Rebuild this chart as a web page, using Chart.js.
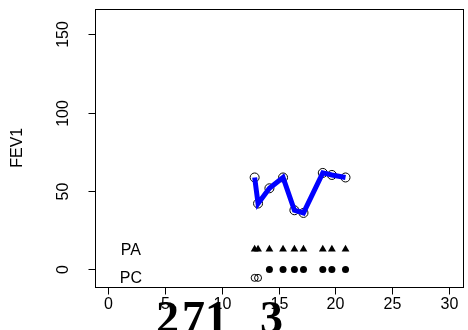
<!DOCTYPE html>
<html>
<head>
<meta charset="utf-8">
<script src="https://cdn.jsdelivr.net/npm/chart.js@4"></script>
<style>
html, body { margin: 0; padding: 0; background: #fff; }
#wrap { width: 468px; height: 330px; }
</style>
</head>
<body>
<div id="wrap"><canvas id="fevChart" width="468" height="330"></canvas></div>
<script>
/* data */
const age = [12.9, 13.2, 14.2, 15.4, 16.4, 17.2, 18.9, 19.7, 20.9];
const fev1 = [58.6, 42.0, 51.7, 58.6, 37.7, 36.0, 61.5, 60.2, 58.6];
const paLevel = [12.8, 12.8, 12.8, 12.8, 12.8, 12.8, 12.8, 12.8, 12.8];
const pcLevel = [-5.4, -5.4, 0, 0, 0, 0, 0, 0, 0];
const pcOpen = [true, true, false, false, false, false, false, false, false];
const xTicks = [0, 5, 10, 15, 20, 25, 30];
const yTicks = [0, 50, 100, 150];
const rowLabels = ['PA', 'PC'];

function pts(xs, ys, keep) {
  const out = [];
  for (let i = 0; i < xs.length; i++) {
    if (!keep || keep(i)) out.push({ x: xs[i], y: ys[i] });
  }
  return out;
}

const FONT = '"Liberation Sans", Arial, sans-serif';

/* R style axes, box and text */
const rAxes = {
  id: 'rAxes',
  afterDraw(chart) {
    const c = chart.ctx;
    const a = chart.chartArea;
    const xs = chart.scales.x;
    const ys = chart.scales.y;
    c.save();
    c.strokeStyle = '#000';
    c.lineWidth = 1;
    c.strokeRect(Math.round(a.left) + 0.5, Math.round(a.top) + 0.5,
      Math.round(a.right - a.left), Math.round(a.bottom - a.top));

    c.fillStyle = '#000';
    c.font = '16px ' + FONT;
    // x ticks
    c.textAlign = 'center';
    c.textBaseline = 'alphabetic';
    xTicks.forEach(function (t) {
      const px = Math.round(xs.getPixelForValue(t)) + 0.5;
      c.beginPath();
      c.moveTo(px, Math.round(a.bottom) + 0.5);
      c.lineTo(px, Math.round(a.bottom) + 7.5);
      c.stroke();
      c.fillText(String(t), px, 309);
    });
    // y ticks
    yTicks.forEach(function (t) {
      const py = Math.round(ys.getPixelForValue(t)) + 0.5;
      c.beginPath();
      c.moveTo(Math.round(a.left) + 0.5, py);
      c.lineTo(Math.round(a.left) - 6.5, py);
      c.stroke();
      c.save();
      c.translate(68, py);
      c.rotate(-Math.PI / 2);
      c.fillText(String(t), 0, 0);
      c.restore();
    });
    // axis title
    c.save();
    c.translate(22, (a.top + a.bottom) / 2);
    c.rotate(-Math.PI / 2);
    c.fillText('FEV1', 0, 0);
    c.restore();

    // row labels
    c.textBaseline = 'middle';
    c.fillText(rowLabels[0], xs.getPixelForValue(2), ys.getPixelForValue(paLevel[0]) + 1);
    c.fillText(rowLabels[1], xs.getPixelForValue(2), ys.getPixelForValue(-5.4) + 1);

    // stray serif glyphs at the bottom edge
    c.textAlign = 'left';
    c.textBaseline = 'alphabetic';
    c.font = 'bold 46px "Liberation Serif", serif';
    c.fillText('2', 156, 333);
    c.fillText('7', 182, 333);
    c.fillText('1', 205, 333);
    c.fillText('3', 260, 333);
    c.restore();
  }
};

new Chart(document.getElementById('fevChart'), {
  type: 'scatter',
  data: {
    datasets: [
      {
        label: 'FEV1 line',
        data: pts(age, fev1),
        showLine: true,
        borderColor: '#0000ff',
        borderWidth: 5,
        pointRadius: 0,
        tension: 0
      },
      {
        label: 'FEV1',
        data: pts(age, fev1),
        pointStyle: 'circle',
        pointRadius: 4.5,
        borderColor: '#000',
        borderWidth: 1,
        backgroundColor: 'rgba(0,0,0,0)'
      },
      {
        label: 'PA',
        data: pts(age, paLevel),
        pointStyle: 'triangle',
        pointRadius: 4.5,
        borderWidth: 0,
        backgroundColor: '#000'
      },
      {
        label: 'PC',
        data: pts(age, pcLevel, function (i) { return !pcOpen[i]; }),
        pointStyle: 'circle',
        pointRadius: 3.5,
        borderWidth: 0,
        backgroundColor: '#000'
      },
      {
        label: 'PC open',
        data: pts(age, pcLevel, function (i) { return pcOpen[i]; }),
        pointStyle: 'circle',
        pointRadius: 3.5,
        borderColor: '#000',
        borderWidth: 1,
        backgroundColor: 'rgba(0,0,0,0)'
      }
    ]
  },
  options: {
    responsive: false,
    devicePixelRatio: 1,
    animation: false,
    layout: {
      padding: { left: 94.5, right: 3, top: 9, bottom: 43.5 }
    },
    scales: {
      x: { type: 'linear', min: -1.2, max: 31.2, display: false },
      y: { type: 'linear', min: -10.9, max: 166, display: false }
    },
    plugins: {
      legend: { display: false },
      tooltip: { enabled: false }
    }
  },
  plugins: [rAxes]
});
</script>
</body>
</html>
